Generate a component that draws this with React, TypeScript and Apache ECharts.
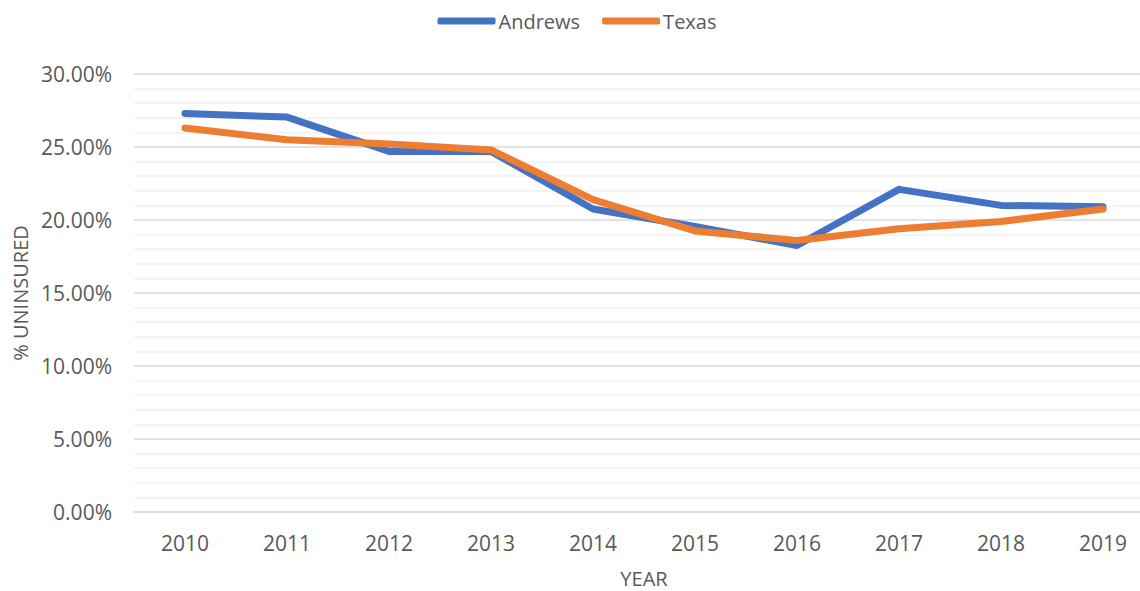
import React, { useEffect, useRef } from "react";
import * as echarts from "echarts";

const years = ["2010", "2011", "2012", "2013", "2014", "2015", "2016", "2017", "2018", "2019"];
const andrews = [27.3, 27.05, 24.7, 24.7, 20.75, 19.55, 18.25, 22.1, 21.0, 20.9];
const texas = [26.3, 25.5, 25.2, 24.8, 21.4, 19.25, 18.6, 19.4, 19.9, 20.75];

const FONT = "'Open Sans', sans-serif";
const GREY = "#595959";

export default function App() {
  const ref = useRef<HTMLDivElement>(null);
  useEffect(() => {
    const chart = echarts.init(ref.current!, null, { renderer: "svg" });
    chart.setOption({
      animation: false,
      textStyle: { fontFamily: FONT },
      legend: {
        top: 6,
        left: "center",
        icon: "roundRect",
        itemWidth: 58,
        itemHeight: 7,
        itemGap: 22,
        textStyle: { fontFamily: FONT, fontSize: 20, color: GREY, padding: [0, 0, 0, -2] },
        data: ["Andrews", "Texas"],
      },
      grid: { left: 134, right: 0, top: 74, bottom: 79, outerBoundsMode: "none", containLabel: false },
      xAxis: {
        type: "category",
        data: years,
        boundaryGap: true,
        name: "YEAR",
        nameLocation: "middle",
        nameGap: 56,
        nameTextStyle: { fontFamily: FONT, fontSize: 20, color: GREY },
        axisLine: { show: true, lineStyle: { color: "#d9d9d9", width: 1.5 } },
        axisTick: { show: false },
        axisLabel: { fontFamily: FONT, fontSize: 21, color: GREY, margin: 20 },
      },
      yAxis: {
        type: "value",
        min: 0,
        max: 30,
        interval: 5,
        name: "% UNINSURED",
        nameLocation: "middle",
        nameGap: 104,
        nameTextStyle: { fontFamily: FONT, fontSize: 20, color: GREY },
        axisLine: { show: false },
        axisTick: { show: false },
        axisLabel: {
          fontFamily: FONT,
          fontSize: 21,
          color: GREY,
          margin: 22,
          formatter: (v: number) => v.toFixed(2) + "%",
        },
        splitLine: { lineStyle: { color: "#d9d9d9", width: 1.5 } },
        minorTick: { show: false, splitNumber: 5 },
        minorSplitLine: { show: true, lineStyle: { color: "#f0f0f0", width: 1.5 } },
      },
      series: [
        {
          name: "Andrews",
          type: "line",
          data: andrews,
          symbol: "none",
          lineStyle: { color: "#4472C4", width: 7, cap: "round", join: "round" },
          itemStyle: { color: "#4472C4" },
        },
        {
          name: "Texas",
          type: "line",
          data: texas,
          symbol: "none",
          lineStyle: { color: "#ED7D31", width: 7, cap: "round", join: "round" },
          itemStyle: { color: "#ED7D31" },
        },
      ],
    });
    return () => chart.dispose();
  }, []);
  return (
    <div style={{ position: "fixed", left: 0, top: 0, width: 1140, height: 591, overflow: "hidden", background: "#fff" }}>
      <div ref={ref} style={{ width: 1154, height: 591 }} />
    </div>
  );
}
